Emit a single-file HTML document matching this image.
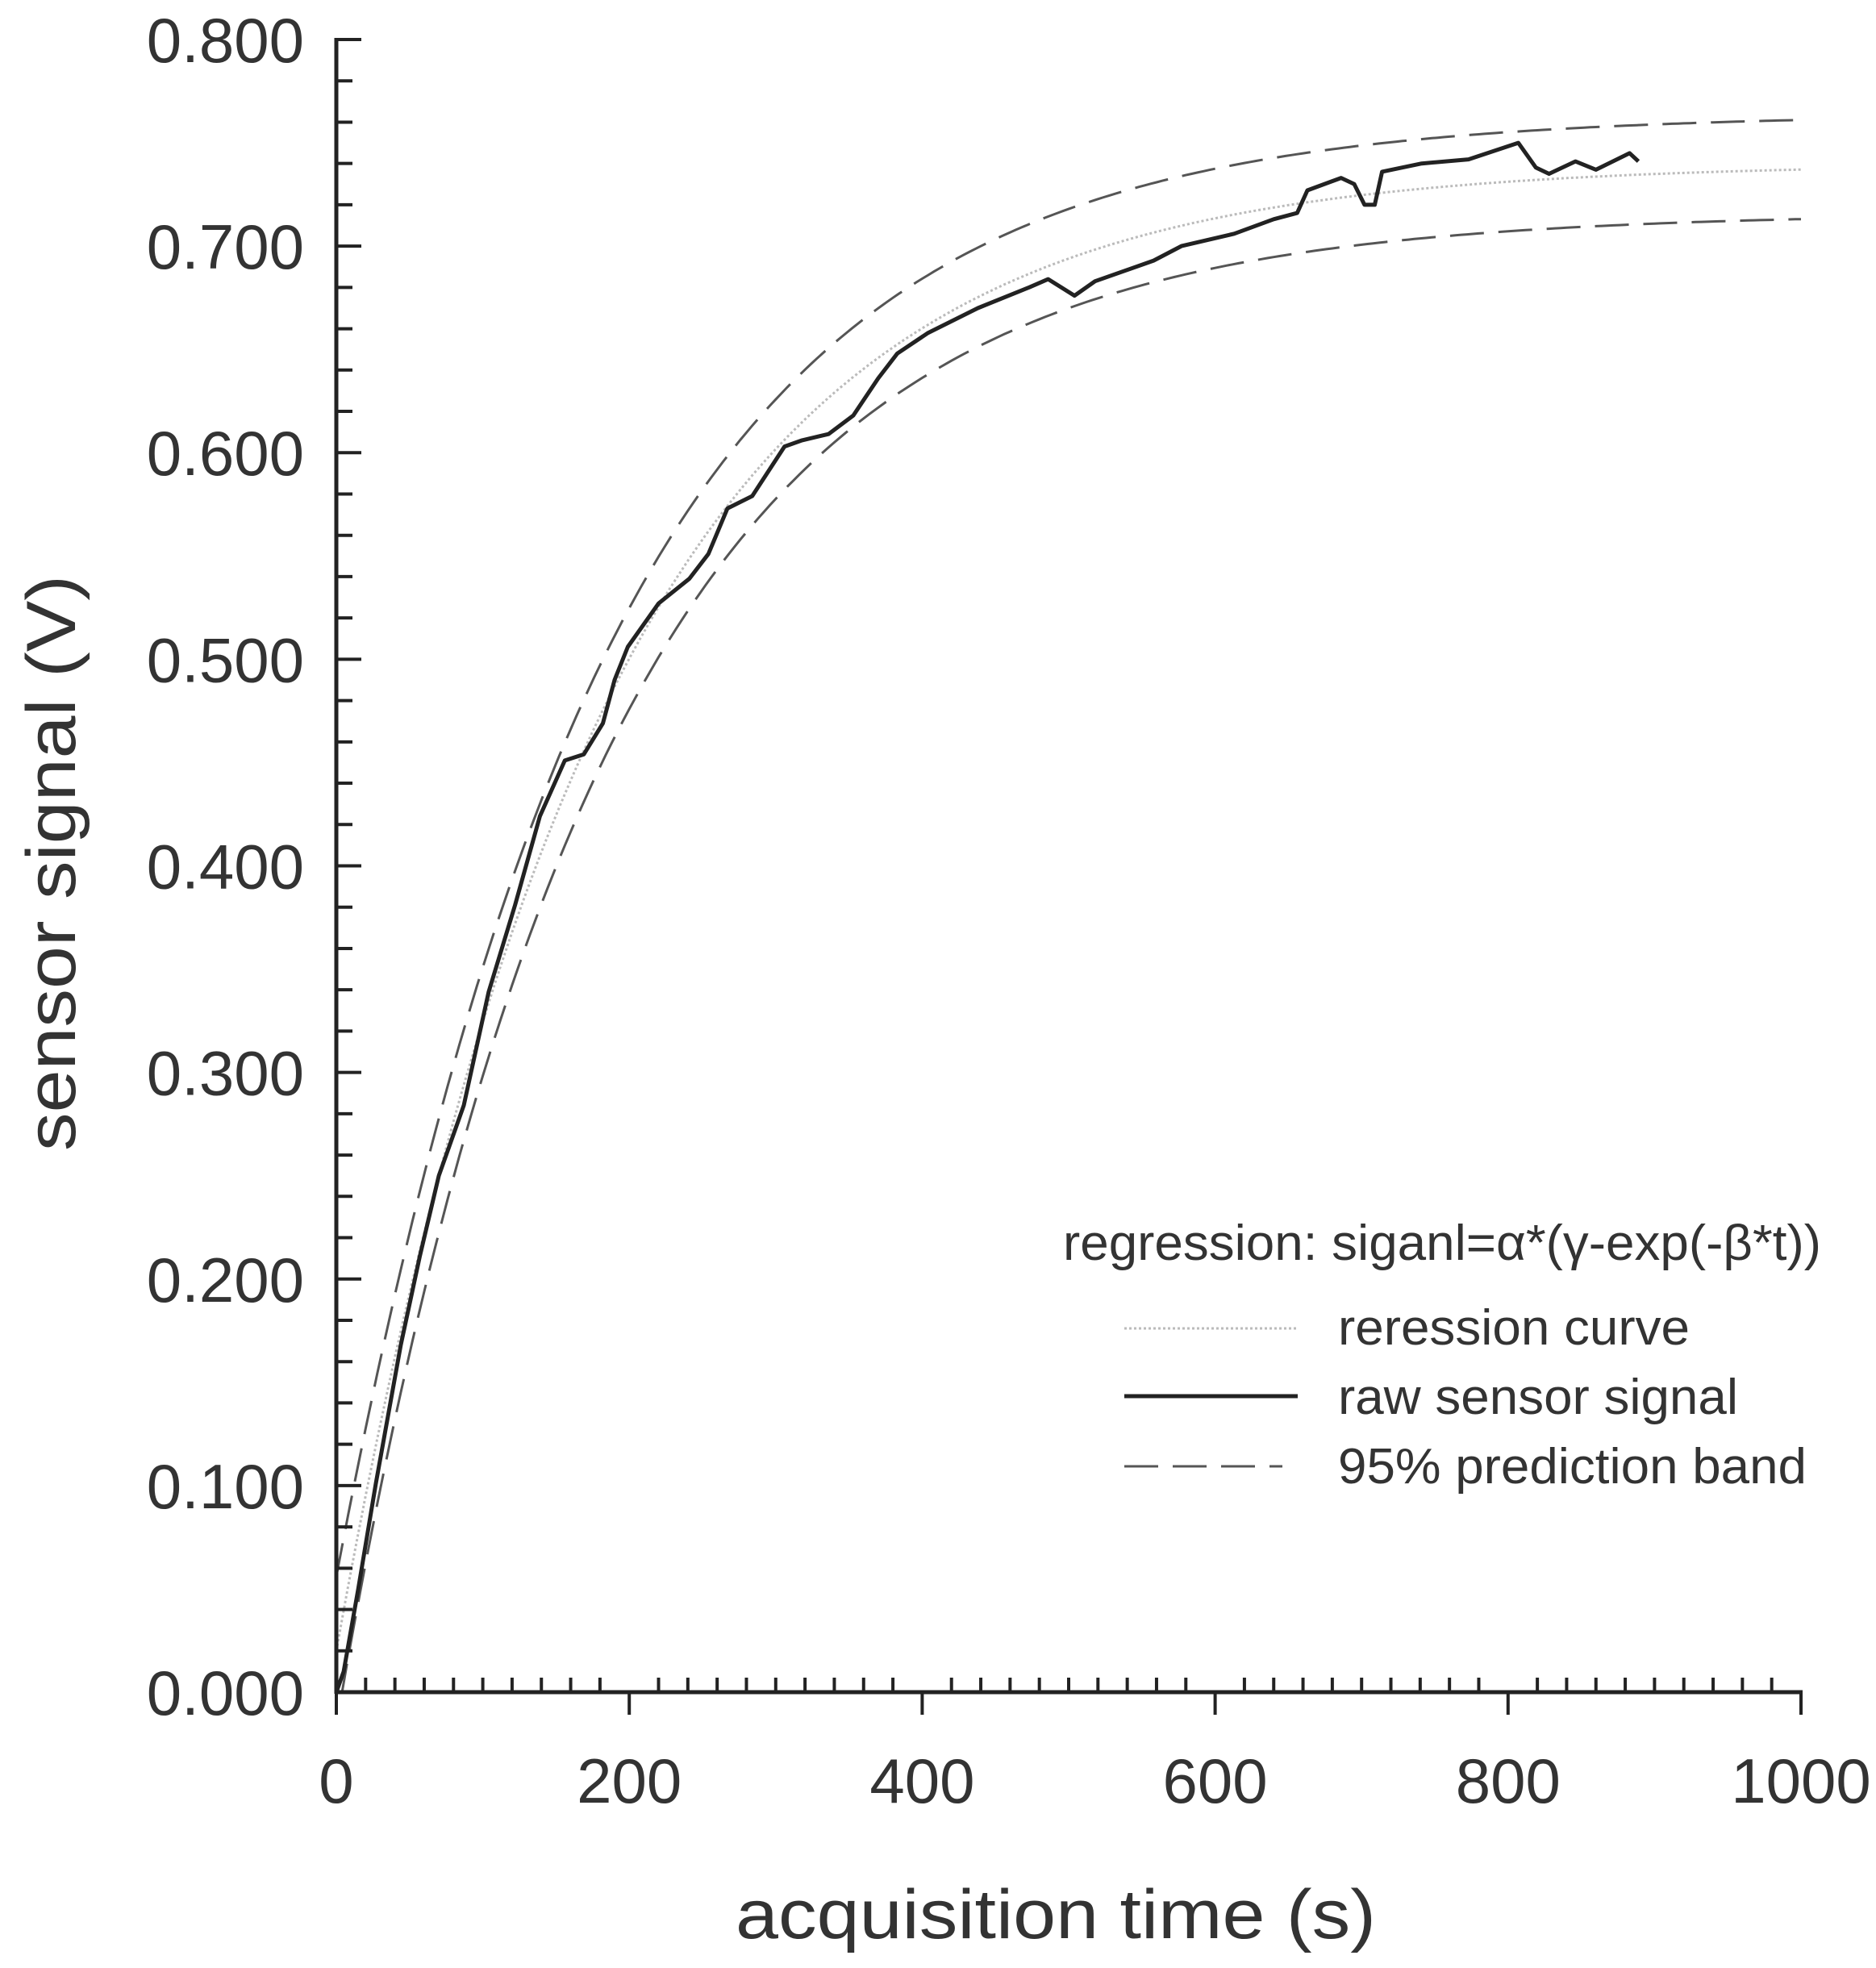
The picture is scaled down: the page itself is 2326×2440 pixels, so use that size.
<!DOCTYPE html>
<html><head><meta charset="utf-8">
<style>html,body{margin:0;padding:0;background:#fff}svg{display:block}</style></head>
<body>
<svg id="s" width="2326" height="2440" viewBox="0 0 2326 2440" xmlns="http://www.w3.org/2000/svg" font-family="Liberation Sans, Arial, sans-serif">
<rect width="2326" height="2440" fill="#fff"/>
<g id="curves"></g>
<g id="axes" stroke="#222" stroke-width="5" fill="none"></g>
<g id="labels" fill="#333" font-size="78"></g>
<text x="1309" y="2403" font-size="86" fill="#333" text-anchor="middle" textLength="794" lengthAdjust="spacingAndGlyphs">acquisition time (s)</text>
<text transform="translate(93,1070) rotate(-90)" font-size="86" fill="#333" text-anchor="middle" textLength="714" lengthAdjust="spacingAndGlyphs">sensor signal (V)</text>
<g fill="#333" font-size="62">
<text x="1318" y="1562" textLength="940" lengthAdjust="spacingAndGlyphs">regression: siganl=α*(γ-exp(-β*t))</text>
<text x="1659" y="1667" textLength="436" lengthAdjust="spacingAndGlyphs">reression curve</text>
<text x="1659" y="1753" textLength="496" lengthAdjust="spacingAndGlyphs">raw sensor signal</text>
<text x="1659" y="1839" textLength="581" lengthAdjust="spacingAndGlyphs">95% prediction band</text>
</g>
<line x1="1394" y1="1647" x2="1609" y2="1647" stroke="#bbb" stroke-width="3" stroke-dasharray="3,3"/>
<line x1="1394" y1="1731" x2="1609" y2="1731" stroke="#222" stroke-width="5"/>
<line x1="1394" y1="1818" x2="1590" y2="1818" stroke="#555" stroke-width="3" stroke-dasharray="42,18"/>
</svg>
<script>
var X=function(t){return 417+t*1.816}, Y=function(v){return 2098-v*2561.25};
var ns="http://www.w3.org/2000/svg";
function el(p,tag,a,txt){var e=document.createElementNS(ns,tag);for(var k in a)e.setAttribute(k,a[k]);if(txt!=null)e.textContent=txt;p.appendChild(e);return e;}
var C=document.getElementById('curves'),A=document.getElementById('axes'),L=document.getElementById('labels');
function reg(t){return 0.02+0.72*(1-Math.exp(-0.0055*t));}
function hw(t){return 0.024+0.012*Math.exp(-t/60);}
var r=[],u=[],l=[];
for(var t=0;t<=1000;t+=4){r.push(X(t).toFixed(1)+','+Y(reg(t)).toFixed(1));u.push(X(t).toFixed(1)+','+Y(reg(t)+hw(t)).toFixed(1));l.push(X(t).toFixed(1)+','+Y(Math.max(0,reg(t)-hw(t))).toFixed(1));}
el(C,'polyline',{points:r.join(' '),fill:'none',stroke:'#bbb','stroke-width':3,'stroke-dasharray':'3,3'});
el(C,'polyline',{points:u.join(' '),fill:'none',stroke:'#555','stroke-width':3,'stroke-dasharray':'42,18'});
el(C,'polyline',{points:l.join(' '),fill:'none',stroke:'#555','stroke-width':3,'stroke-dasharray':'42,18'});
var raw=[[0,0],[5,0.01],[15,0.05],[27,0.101],[44,0.168],[57,0.211],[70,0.25],[87,0.284],[104,0.339],[122,0.381],[139,0.424],[156,0.451],[169,0.454],[182,0.469],[190,0.49],[199,0.506],[220,0.527],[241,0.539],[254,0.551],[267,0.573],[284,0.579],[306,0.603],[318,0.606],[336,0.609],[353,0.618],[370,0.636],[383,0.648],[404,0.658],[438,0.670],[473,0.68],[486,0.684],[504,0.676],[518,0.683],[558,0.693],[577,0.700],[613,0.706],[640,0.713],[656,0.716],[663,0.727],[686,0.733],[695,0.730],[702,0.720],[709,0.720],[714,0.736],[741,0.740],[773,0.742],[807,0.750],[819,0.738],[828,0.735],[846,0.741],[860,0.737],[883,0.745],[889,0.741]];
el(C,'polyline',{points:raw.map(function(p){return X(p[0]).toFixed(1)+','+Y(p[1]).toFixed(1)}).join(' '),fill:'none',stroke:'#222','stroke-width':5,'stroke-linejoin':'round'});
el(A,'line',{x1:417,y1:47,x2:417,y2:2100});
el(A,'line',{x1:415,y1:2098,x2:2235,y2:2098});
for(var i=0;i<=40;i++){var y=Y(i*0.02);var major=i%5==0;el(A,'line',{x1:417,y1:y,x2:major?448:437,y2:y,'stroke-width':4});}
for(var i=0;i<=50;i++){var x=X(i*20);if(i%10==0){el(A,'line',{x1:x,y1:2098,x2:x,y2:2126,'stroke-width':4});}else{el(A,'line',{x1:x,y1:2098,x2:x,y2:2080,'stroke-width':4});}}
for(var i=0;i<=8;i++){el(L,'text',{x:377,y:(Y(i*0.1)+28).toFixed(1),'text-anchor':'end'},(i/10).toFixed(3));}
for(var i=0;i<=5;i++){el(L,'text',{x:X(i*200),y:2235,'text-anchor':'middle'},String(i*200));}
</script>
</body></html>
